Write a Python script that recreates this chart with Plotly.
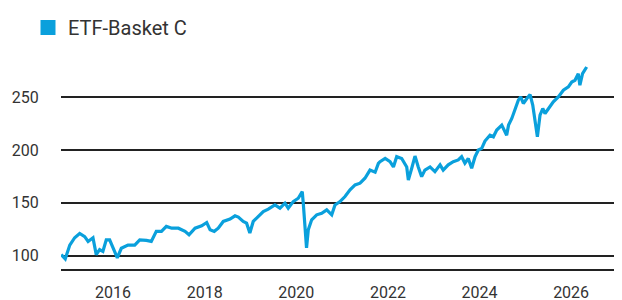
import plotly.graph_objects as go

series_name = "ETF-Basket C"

dates = [
    "2014-11-14", "2014-12-16", "2015-01-21", "2015-03-01", "2015-04-10", "2015-05-20",
    "2015-06-16", "2015-07-25", "2015-08-20", "2015-09-16", "2015-10-12", "2015-11-08",
    "2015-12-05", "2016-01-15", "2016-02-04", "2016-03-07", "2016-04-29", "2016-06-22",
    "2016-08-01", "2016-09-23", "2016-11-01", "2016-12-11", "2017-01-21", "2017-03-01",
    "2017-04-13", "2017-06-05", "2017-07-28", "2017-08-29", "2017-10-16", "2017-12-08",
    "2018-01-17", "2018-02-13", "2018-03-18", "2018-04-19", "2018-05-29", "2018-07-22",
    "2018-08-31", "2018-09-26", "2018-11-04", "2018-12-01", "2018-12-27", "2019-01-23",
    "2019-03-04", "2019-04-13", "2019-05-23", "2019-07-01", "2019-07-15", "2019-08-24",
    "2019-10-03", "2019-10-29", "2019-12-08", "2020-01-17", "2020-02-18", "2020-02-26",
    "2020-03-10", "2020-03-23", "2020-04-06", "2020-05-03", "2020-06-12", "2020-07-22",
    "2020-08-31", "2020-10-10", "2020-11-05", "2020-12-15", "2021-01-24", "2021-03-05",
    "2021-04-14", "2021-05-24", "2021-07-02", "2021-08-11", "2021-09-21", "2021-10-17",
    "2021-10-30", "2021-12-10", "2022-01-18", "2022-02-14", "2022-03-12", "2022-04-21",
    "2022-05-31", "2022-06-13", "2022-07-10", "2022-08-05", "2022-08-31", "2022-09-27",
    "2022-10-23", "2022-12-03", "2023-01-11", "2023-02-21", "2023-03-18", "2023-04-27",
    "2023-06-06", "2023-07-16", "2023-08-12", "2023-09-07", "2023-10-04", "2023-10-31",
    "2023-11-27", "2023-12-23", "2024-01-19", "2024-02-14", "2024-03-25", "2024-04-21",
    "2024-05-18", "2024-06-27", "2024-08-05", "2024-08-20", "2024-09-15", "2024-10-11",
    "2024-11-06", "2024-11-25", "2024-12-16", "2025-01-13", "2025-02-08", "2025-03-01",
    "2025-03-14", "2025-04-07", "2025-04-28", "2025-05-20", "2025-06-07", "2025-07-04",
    "2025-08-12", "2025-09-21", "2025-10-31", "2025-12-10", "2026-01-06", "2026-02-01",
    "2026-02-27", "2026-03-12", "2026-04-02", "2026-05-05",
]

values = [
    101, 97, 110, 117, 121, 118,
    113.5, 117, 101, 105.7, 104, 115,
    115, 104, 98, 107, 110, 110,
    115, 114.5, 113.5, 123, 123, 127.7,
    126, 126, 123, 119.8, 126, 128.3,
    131.4, 124.5, 123, 126, 132.4, 134.6,
    137.7, 136.5, 132.4, 130.8, 121.4, 132.4,
    137, 141.8, 144, 147, 148, 145,
    149.7, 145, 151.2, 154.4, 160.7, 149.7,
    127.7, 107.3, 124.5, 134, 138.7, 140.2,
    143.4, 138.7, 148, 151.2, 156, 162.3,
    167, 168.6, 173.3, 181, 179, 187.4,
    189, 192, 189, 184, 193.7, 192,
    184, 171.7, 182.7, 194.3, 184, 174.8,
    181, 184, 179.5, 186, 181, 186,
    189, 190.6, 193.7, 187.5, 192, 182.7,
    193.7, 200, 201.6, 208.5, 214, 212.5,
    218.9, 223.6, 214, 223.6, 229.9, 237.7,
    247.2, 250.3, 244, 248.7, 252.5, 242.5,
    231.4, 212.5, 233, 239.3, 234.6, 239.3,
    245.6, 250.3, 256.6, 259.7, 264.4, 266,
    272.3, 261.3, 272.3, 278.6,
]

y_ticks = [100, 150, 200, 250]
x_ticks = ["2016-01-01", "2018-01-01", "2020-01-01", "2022-01-01", "2024-01-01", "2026-01-01"]
x_tick_labels = ["2016", "2018", "2020", "2022", "2024", "2026"]

line_color = "#0aa0dc"
text_color = "#333333"

fig = go.Figure()
fig.add_trace(go.Scatter(
    x=dates, y=values, mode="lines", name=series_name,
    line=dict(color=line_color, width=3.2), showlegend=False,
))
fig.add_trace(go.Scatter(
    x=[None], y=[None], mode="markers", name=series_name,
    marker=dict(symbol="square", size=15, color=line_color), showlegend=True,
))

# page body has an 8px margin, so the figure is sized to fit the 622x300 window
fig.update_layout(
    width=614, height=292,
    margin=dict(l=53, r=8, t=52, b=31, autoexpand=False),
    paper_bgcolor="white", plot_bgcolor="white",
    font=dict(family="Roboto", size=16, color=text_color),
    showlegend=True,
    legend=dict(
        xref="container", yref="container",
        x=20 / 614, y=1 - 0 / 292, xanchor="left", yanchor="top",
        orientation="h", font=dict(size=20, color=text_color),
        bgcolor="rgba(0,0,0,0)", valign="top",
    ),
    xaxis=dict(
        type="date", range=["2014-11-12", "2026-12-09"],
        tickvals=x_ticks, ticktext=x_tick_labels,
        showgrid=False, zeroline=False, automargin=False,
        showline=True, linecolor="#222222", linewidth=1.5,
        ticks="outside", ticklen=8, tickcolor="rgba(0,0,0,0)",
        tickfont=dict(size=16, color=text_color),
    ),
    yaxis=dict(
        range=[87.4, 285.2], tickvals=y_ticks,
        showgrid=True, gridcolor="#222222", gridwidth=1.5,
        zeroline=False, showline=False, automargin=False,
        ticks="outside", ticklen=18, tickcolor="rgba(0,0,0,0)",
        tickfont=dict(size=16, color=text_color),
    ),
)

fig.write_html("out.html")
